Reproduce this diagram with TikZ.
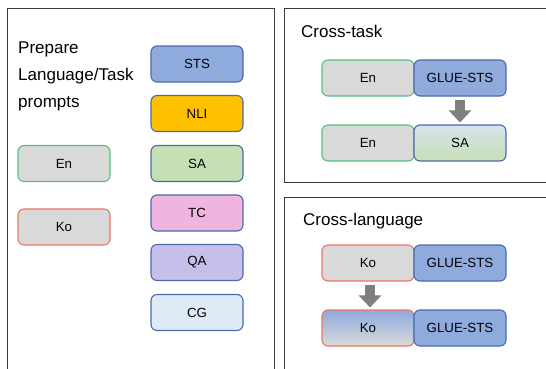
\documentclass[tikz,border=0pt]{standalone}
\usepackage{fontspec}
\setmainfont{Liberation Sans}
\usetikzlibrary{arrows.meta}
\definecolor{frameC}{HTML}{3A3A3A}
\definecolor{blueF}{HTML}{8FAADC}
\definecolor{blueD}{HTML}{4A6AA8}
\definecolor{goldF}{HTML}{FFC000}
\definecolor{greenF}{HTML}{C5E0B4}
\definecolor{pinkF}{HTML}{F0B4E0}
\definecolor{lavF}{HTML}{C8BEEC}
\definecolor{paleF}{HTML}{DEEBF7}
\definecolor{grayF}{HTML}{D9D9D9}
\definecolor{greenB}{HTML}{4CC47C}
\definecolor{redB}{HTML}{EE7262}
\definecolor{arrowC}{HTML}{7F7F7F}
\definecolor{topSA}{HTML}{D8E2EE}
\tikzset{
  panel/.style={draw=frameC, line width=1pt},
  title/.style={font=\fontsize{17}{19}\selectfont, anchor=base west, inner sep=0pt},
  box/.style={rounded corners=6pt, minimum width=92pt, minimum height=36pt, inner sep=0pt,
     line width=1.1pt, font=\fontsize{13.3}{15}\selectfont},
  taskbox/.style={box, draw=blueD},
  langEn/.style={box, draw=greenB, fill=grayF},
  langKo/.style={box, draw=redB, fill=grayF},
  bigarrow/.style={draw=arrowC, line width=10pt, -{Triangle[width=22pt,length=12pt]}}
}
\begin{document}
\begin{tikzpicture}[x=1pt,y=-1pt]
\useasboundingbox (0,0) rectangle (546,368);
\clip (0,0) rectangle (546,368);
\fill[white] (0,0) rectangle (546,368);
% panels
\draw[panel] (7,380) -- (7,8) -- (274,8) -- (274,380);
\draw[panel] (560,8) -- (284,8) -- (284,182) -- (560,182);
\draw[panel] (560,197) -- (284,197) -- (284,380);
% left panel
\node[title] (p1) at (18,53.5) {Prepare};
\node[title] (p2) at (18,80) {Language/Task};
\node[title] (p3) at (18,107) {prompts};
\node[langEn] (en) at (64,163.5) {En};
\node[langKo] (ko) at (64,227) {Ko};
\node[taskbox, fill=blueF] (sts) at (197,64) {STS};
\node[taskbox, fill=goldF] (nli) at (197,113.5) {NLI};
\node[taskbox, fill=greenF] (sa) at (197,163.5) {SA};
\node[taskbox, fill=pinkF] (tc) at (197,213) {TC};
\node[taskbox, fill=lavF] (qa) at (197,262.5) {QA};
\node[taskbox, fill=paleF] (cg) at (197,312.5) {CG};
% cross-task
\node[title] (ct) at (301,37) {Cross-task};
\node[langEn] (ctEn1) at (368,78) {En};
\node[taskbox, fill=blueF] (ctG) at (460,78) {GLUE-STS};
\node[langEn] (ctEn2) at (368,143) {En};
\node[taskbox, top color=topSA, bottom color=greenF] (ctSA) at (460,143) {SA};
\draw[bigarrow, shorten <=3pt, shorten >=2pt] (ctG.south) -- (ctSA.north);
% cross-language
\node[title] (cl) at (303,225) {Cross-language};
\node[langKo] (clKo1) at (368,263) {Ko};
\node[taskbox, fill=blueF] (clG1) at (460,263) {GLUE-STS};
\node[box, draw=redB, top color=blueF, bottom color=grayF] (clKo2) at (368,328) {Ko};
\node[taskbox, fill=blueF] (clG2) at (460,328) {GLUE-STS};
\draw[bigarrow, shorten <=3pt, shorten >=2pt] ([xshift=2pt]clKo1.south) -- ([xshift=2pt]clKo2.north);
\end{tikzpicture}
\end{document}
